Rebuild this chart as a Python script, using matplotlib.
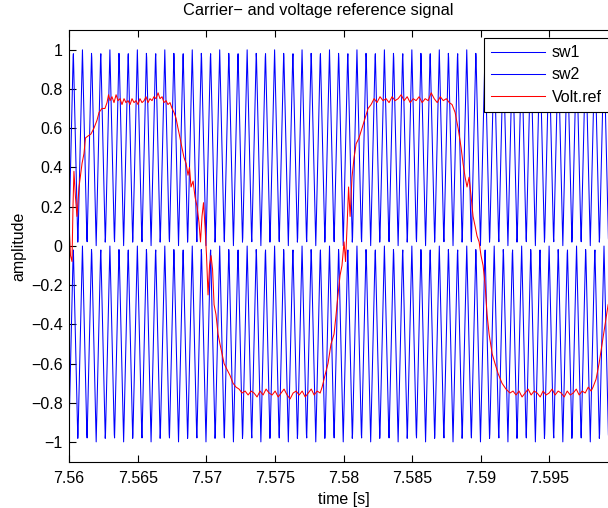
import numpy as np
import matplotlib
matplotlib.use("Agg")
import matplotlib.pyplot as plt

plt.rcParams['font.family'] = ['Liberation Sans', 'DejaVu Sans']

# ---------------- data ----------------
t_start = 7.56
t_end = 7.60
carrier_freq = 1500.0          # Hz
carrier_dt = 2e-5              # sample time of carrier
carrier_first_peak = 7.560313  # time of first carrier peak
sw1_range = (0.0, 1.0)
sw2_range = (-1.0, 0.0)

# reference voltage: (time after 7.56 s in ms, value)
ref_points = [
    (0.00, 0.12), (0.11, -0.05), (0.22, -0.08), (0.29, 0.20), (0.36, 0.38), (0.47, 0.25),
    (0.58, 0.15), (0.73, 0.30), (0.95, 0.42), (1.09, 0.47), (1.20, 0.55), (1.39, 0.56),
    (1.60, 0.57), (1.82, 0.60), (2.04, 0.64), (2.19, 0.68), (2.40, 0.70), (2.62, 0.70),
    (2.77, 0.73), (2.88, 0.77), (2.99, 0.74), (3.13, 0.76), (3.28, 0.73), (3.43, 0.77),
    (3.57, 0.74), (3.72, 0.75), (3.86, 0.72), (4.01, 0.75), (4.15, 0.73), (4.30, 0.74),
    (4.45, 0.72), (4.59, 0.75), (4.74, 0.73), (4.88, 0.74), (5.03, 0.72), (5.17, 0.75),
    (5.32, 0.73), (5.47, 0.74), (5.61, 0.76), (5.76, 0.73), (5.90, 0.75), (6.05, 0.74),
    (6.19, 0.76), (6.34, 0.75), (6.49, 0.78), (6.63, 0.75), (6.78, 0.76), (6.92, 0.73),
    (7.07, 0.74), (7.21, 0.72), (7.36, 0.73), (7.51, 0.70), (7.65, 0.68), (7.80, 0.65),
    (7.94, 0.60), (8.09, 0.55), (8.23, 0.50), (8.38, 0.45), (8.53, 0.42), (8.67, 0.36),
    (8.78, 0.40), (8.89, 0.30), (9.04, 0.33), (9.18, 0.25), (9.33, 0.20), (9.47, 0.12),
    (9.58, 0.02), (9.69, 0.15), (9.80, 0.22), (9.91, 0.10), (10.02, -0.05), (10.13, -0.25),
    (10.24, -0.10), (10.35, -0.05), (10.46, -0.12), (10.57, -0.30), (10.71, -0.35),
    (10.86, -0.45), (11.00, -0.50), (11.15, -0.55), (11.30, -0.60), (11.51, -0.63),
    (11.73, -0.66), (11.95, -0.70), (12.17, -0.72), (12.39, -0.73),
    (12.61, -0.75), (12.83, -0.74), (13.05, -0.76), (13.27, -0.74), (13.48, -0.75),
    (13.70, -0.77), (13.92, -0.74), (14.14, -0.76), (14.36, -0.73), (14.58, -0.75),
    (14.80, -0.76), (15.02, -0.74), (15.24, -0.77), (15.46, -0.75), (15.67, -0.73),
    (15.89, -0.76), (16.11, -0.78), (16.33, -0.75), (16.55, -0.74), (16.77, -0.76),
    (16.99, -0.74), (17.21, -0.77), (17.43, -0.75), (17.65, -0.73), (17.86, -0.76),
    (18.08, -0.74), (18.30, -0.75),
    (18.44, -0.72), (18.65, -0.66), (18.87, -0.60), (19.09, -0.50), (19.31, -0.45),
    (19.46, -0.35), (19.60, -0.25), (19.75, -0.15), (19.89, -0.10), (20.04, 0.02),
    (20.15, -0.08), (20.26, 0.10), (20.37, 0.30), (20.48, 0.15), (20.62, 0.35),
    (20.77, 0.45), (20.92, 0.52), (21.13, 0.55), (21.35, 0.60), (21.57, 0.65),
    (21.79, 0.70), (22.01, 0.72), (22.23, 0.75),
    (22.44, 0.73), (22.66, 0.76), (22.88, 0.74), (23.10, 0.75), (23.32, 0.73),
    (23.54, 0.76), (23.76, 0.74), (23.98, 0.75), (24.20, 0.77), (24.42, 0.74),
    (24.64, 0.76), (24.86, 0.73), (25.08, 0.75), (25.29, 0.74), (25.51, 0.76),
    (25.73, 0.73), (25.95, 0.75), (26.17, 0.74), (26.39, 0.78), (26.61, 0.75),
    (26.83, 0.73), (27.05, 0.76), (27.27, 0.74), (27.49, 0.75), (27.71, 0.73),
    (27.91, 0.72), (28.13, 0.68), (28.35, 0.60), (28.57, 0.50), (28.71, 0.42),
    (28.86, 0.35), (29.00, 0.30), (29.15, 0.35), (29.30, 0.25), (29.44, 0.15),
    (29.59, 0.10), (29.73, 0.05), (29.88, 0.02), (30.02, -0.05), (30.17, -0.10),
    (30.32, -0.20), (30.46, -0.35), (30.61, -0.45), (30.83, -0.55), (31.04, -0.60),
    (31.26, -0.65), (31.55, -0.70), (31.84, -0.73), (32.13, -0.75),
    (32.35, -0.74), (32.57, -0.76), (32.79, -0.74), (33.01, -0.77), (33.23, -0.75),
    (33.45, -0.73), (33.67, -0.76), (33.89, -0.74), (34.11, -0.75), (34.33, -0.77),
    (34.54, -0.74), (34.76, -0.76), (34.98, -0.75), (35.20, -0.73), (35.42, -0.76),
    (35.64, -0.74), (35.86, -0.75), (36.08, -0.77), (36.30, -0.74), (36.52, -0.76),
    (36.74, -0.75), (36.96, -0.73), (37.17, -0.76), (37.39, -0.74), (37.61, -0.75),
    (37.83, -0.72), (38.04, -0.74),
    (38.18, -0.72), (38.40, -0.68), (38.62, -0.60), (38.84, -0.50), (39.06, -0.40),
    (39.28, -0.30), (39.57, -0.25),
]

x_ticks = [7.56, 7.565, 7.57, 7.575, 7.58, 7.585, 7.59, 7.595]
y_ticks = [-1, -0.8, -0.6, -0.4, -0.2, 0, 0.2, 0.4, 0.6, 0.8, 1]
legend_labels = ["sw1", "sw2", "Volt.ref"]
title_text = "Carrier\u2212 and voltage reference signal"

# ---------------- build signals ----------------
ref_time = t_start + np.array([p[0] for p in ref_points]) / 1000.0
ref_value = np.array([p[1] for p in ref_points])

n = int(round((t_end - t_start) / carrier_dt)) + 1
tc = t_start + np.arange(n) * carrier_dt
frac = np.mod((tc - carrier_first_peak) * carrier_freq, 1.0)
tri = 1.0 - 2.0 * np.minimum(frac, 1.0 - frac)
sw1 = sw1_range[0] + (sw1_range[1] - sw1_range[0]) * tri
sw2 = sw2_range[0] + (sw2_range[1] - sw2_range[0]) * tri

# ---------------- figure ----------------
W, H = 608, 508
FS = 11.5
fig = plt.figure(figsize=(W / 100, H / 100), dpi=100)
left_px, right_px, top_px, bot_px = 69, 618, 30, 461.7
ax = fig.add_axes([left_px / W, 1 - bot_px / H, (right_px - left_px) / W, (bot_px - top_px) / H])

l1, = ax.plot(tc, sw1, color=(0, 0, 1), lw=0.75)
l2, = ax.plot(tc, sw2, color=(0, 0, 1), lw=0.75)
l3, = ax.plot(ref_time, ref_value, color=(1, 0, 0), lw=0.75)

ax.set_xlim(t_start, t_end)
ax.set_ylim(-1.1, 1.1)
ax.set_xticks(x_ticks)
ax.set_xticklabels([f"{v:g}" for v in x_ticks])
ax.set_yticks(y_ticks)
ax.set_yticklabels([f"{v:g}".replace("-", "\u2212") for v in y_ticks])
ax.tick_params(axis='both', direction='in', length=5, width=0.8, top=True, right=True,
               labelsize=FS)
ax.tick_params(axis='x', pad=6.5)
ax.tick_params(axis='y', pad=4.5)
for s in ax.spines.values():
    s.set_linewidth(0.8)

ax.set_xlabel("time [s]", fontsize=FS, labelpad=4.5)
ax.set_ylabel("amplitude", fontsize=FS, labelpad=3)
fig.text(318 / W, 1 - 11 / H, title_text, fontsize=11.75, ha='center', va='center')

leg = fig.legend([l1, l2, l3], legend_labels, loc='upper left',
                 bbox_to_anchor=(484 / W, 1 - 38 / H), fontsize=FS,
                 frameon=True, fancybox=False, framealpha=1, edgecolor='black',
                 handlelength=3.35, handletextpad=0.45, labelspacing=0.45,
                 borderpad=0.45, borderaxespad=0)
leg.get_frame().set_linewidth(0.8)

fig.savefig("out.png", dpi=100)
